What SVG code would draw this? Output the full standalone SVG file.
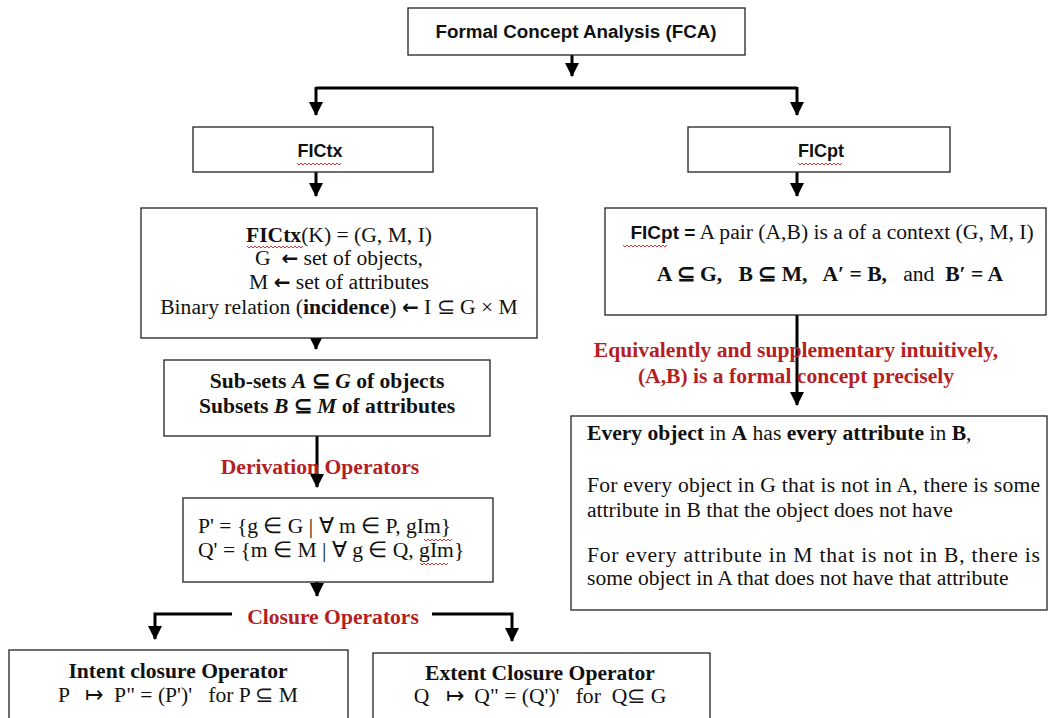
<svg xmlns="http://www.w3.org/2000/svg" width="1048" height="718" viewBox="0 0 1048 718">
<defs>
<marker id="arr" markerUnits="userSpaceOnUse" markerWidth="14" markerHeight="14" viewBox="0 0 14 14" refX="13" refY="7" orient="auto">
<path d="M0 0 L14 7 L0 14 Z" fill="#000"/>
</marker>
<style>
.box{fill:#fff;stroke:#222;stroke-width:1.3}
.ln{fill:none;stroke:#000;stroke-width:3}
.sans{font-family:"Liberation Sans",Arial,sans-serif;font-weight:bold;fill:#111}
.ser{font-family:"Liberation Serif","Times New Roman",serif;fill:#111;font-size:21.6px}
.red{font-family:"Liberation Serif","Times New Roman",serif;font-weight:bold;fill:#b51f24;font-size:21.6px}
.b{font-weight:bold}
.i{font-style:italic}
.arw{font-family:"DejaVu Sans",sans-serif;font-weight:bold;font-size:20px}
.sq{fill:none;stroke:#d02020;stroke-width:0.9}
</style>
</defs>
<rect width="1048" height="718" fill="#fff"/>

<g id="connectors">
<path class="ln" d="M572 55 V76" marker-end="url(#arr)"/>
<path class="ln" d="M316 88 H797"/>
<path class="ln" d="M316 87 V115" marker-end="url(#arr)"/>
<path class="ln" d="M797 87 V115" marker-end="url(#arr)"/>
<path class="ln" d="M316 172 V196" marker-end="url(#arr)"/>
<path class="ln" d="M797 172 V196" marker-end="url(#arr)"/>
<path class="ln" d="M316 338 V349" marker-end="url(#arr)"/>
<path class="ln" d="M317 436 V487" marker-end="url(#arr)"/>
<path class="ln" d="M317 582 V596" marker-end="url(#arr)"/>
<path class="ln" d="M232 614 H155 V639" marker-end="url(#arr)"/>
<path class="ln" d="M432 614 H512 V641" marker-end="url(#arr)"/>
<path class="ln" d="M797 315 V405" marker-end="url(#arr)"/>
</g>

<g id="fca">
<rect class="box" x="408" y="8" width="337" height="47"/>
<text class="sans" x="576" y="38" font-size="18.8" text-anchor="middle">Formal Concept Analysis (FCA)</text>
</g>

<g id="fictx">
<rect class="box" x="193" y="127" width="240" height="45"/>
<text class="sans" x="320" y="157" font-size="18" text-anchor="middle">FICtx</text>
<path class="sq" d="M297 163 l2 2 l2 -2 l2 2 l2 -2 l2 2 l2 -2 l2 2 l2 -2 l2 2 l2 -2 l2 2 l2 -2 l2 2 l2 -2 l2 2 l2 -2 l2 2 l2 -2 l2 2 l2 -2 l2 2 l2 -2"/>
</g>

<g id="ficpt">
<rect class="box" x="688" y="127" width="262" height="45"/>
<text class="sans" x="821" y="157" font-size="18" text-anchor="middle">FICpt</text>
<path class="sq" d="M798 163 l2 2 l2 -2 l2 2 l2 -2 l2 2 l2 -2 l2 2 l2 -2 l2 2 l2 -2 l2 2 l2 -2 l2 2 l2 -2 l2 2 l2 -2 l2 2 l2 -2 l2 2 l2 -2 l2 2 l2 -2"/>
</g>

<g id="fictx-def">
<rect class="box" x="141" y="208" width="396" height="130"/>
<text class="ser" x="339" y="242" text-anchor="middle"><tspan class="b">FICtx</tspan>(K) = (G, M, I)</text>
<path class="sq" d="M247 246 l2 2 l2 -2 l2 2 l2 -2 l2 2 l2 -2 l2 2 l2 -2 l2 2 l2 -2 l2 2 l2 -2 l2 2 l2 -2 l2 2 l2 -2 l2 2 l2 -2 l2 2 l2 -2 l2 2 l2 -2 l2 2 l2 -2 l2 2 l2 -2 l2 2 l2 -2"/>
<text class="ser" x="339" y="265" text-anchor="middle" xml:space="preserve">G  <tspan class="arw">←</tspan> set of objects,</text>
<text class="ser" x="339" y="289" text-anchor="middle" xml:space="preserve">M <tspan class="arw">←</tspan> set of attributes</text>
<text class="ser" x="339" y="314" text-anchor="middle" xml:space="preserve">Binary relation (<tspan class="b">incidence</tspan>) <tspan class="arw">←</tspan> I ⊆ G × M</text>
</g>

<g id="ficpt-def">
<rect class="box" x="605" y="208" width="441" height="107"/>
<text class="ser" x="832" y="239" text-anchor="middle"><tspan class="b" font-family="Liberation Sans, sans-serif" font-size="19">FICpt =</tspan> A pair (A,B) is a of a context (G, M, I)</text>
<path class="sq" d="M623 245 l2 2 l2 -2 l2 2 l2 -2 l2 2 l2 -2 l2 2 l2 -2 l2 2 l2 -2 l2 2 l2 -2 l2 2 l2 -2 l2 2 l2 -2 l2 2 l2 -2 l2 2 l2 -2 l2 2 l2 -2"/>
<text class="ser b" x="830" y="281" text-anchor="middle" xml:space="preserve">A ⊆ G,   B ⊆ M,   A′ = B,   <tspan font-weight="normal">and</tspan>  B′ = A</text>
</g>

<g id="subsets">
<rect class="box" x="164" y="360" width="326" height="76"/>
<text class="ser b" x="327" y="388" text-anchor="middle">Sub-sets <tspan class="i">A</tspan> ⊆ <tspan class="i">G</tspan> of objects</text>
<text class="ser b" x="327" y="413" text-anchor="middle">Subsets <tspan class="i">B</tspan> ⊆ <tspan class="i">M</tspan> of attributes</text>
</g>

<g id="derivation-label">
<text class="red" x="320" y="474" text-anchor="middle">Derivation Operators</text>
</g>

<g id="derivation">
<rect class="box" x="183" y="498" width="310" height="84"/>
<text class="ser" x="198" y="533">P' = {g ∈ G | ∀ m ∈ P, gIm}</text>
<path class="sq" d="M424 539 l2 2 l2 -2 l2 2 l2 -2 l2 2 l2 -2 l2 2 l2 -2 l2 2 l2 -2 l2 2 l2 -2 l2 2 l2 -2"/>
<text class="ser" x="198" y="557">Q' = {m ∈ M | ∀ g ∈ Q, gIm}</text>
<path class="sq" d="M420 563 l2 2 l2 -2 l2 2 l2 -2 l2 2 l2 -2 l2 2 l2 -2 l2 2 l2 -2 l2 2 l2 -2 l2 2 l2 -2"/>
</g>

<g id="closure-label">
<text class="red" x="333" y="624" text-anchor="middle">Closure Operators</text>
</g>

<g id="intent">
<rect class="box" x="9" y="650" width="339" height="80"/>
<text class="ser b" x="178" y="678" text-anchor="middle">Intent closure Operator</text>
<text class="ser" x="178" y="702" text-anchor="middle" xml:space="preserve">P   ↦  P" = (P')'   for P ⊆ M</text>
</g>

<g id="extent">
<rect class="box" x="373" y="653" width="337" height="80"/>
<text class="ser b" x="540" y="680" text-anchor="middle">Extent Closure Operator</text>
<text class="ser" x="540" y="703" text-anchor="middle" xml:space="preserve">Q   ↦  Q" = (Q')'   for  Q⊆ G</text>
</g>

<g id="equiv-label">
<text class="red" x="796" y="357" text-anchor="middle">Equivalently and supplementary intuitively,</text>
<text class="red" x="796" y="383" text-anchor="middle">(A,B) is a formal concept precisely</text>
</g>

<g id="properties">
<rect class="box" x="571" y="416" width="476" height="194"/>
<text class="ser" x="587" y="440"><tspan class="b">Every object</tspan> in <tspan class="b">A</tspan> has <tspan class="b">every attribute</tspan> in <tspan class="b">B</tspan>,</text>
<text class="ser" x="587" y="492" textLength="453" lengthAdjust="spacing">For every object in G that is not in A, there is some</text>
<text class="ser" x="587" y="517">attribute in B that the object does not have</text>
<text class="ser" x="587" y="562" textLength="453" lengthAdjust="spacing">For every attribute in M that is not in B, there is</text>
<text class="ser" x="587" y="585">some object in A that does not have that attribute</text>
</g>
</svg>
